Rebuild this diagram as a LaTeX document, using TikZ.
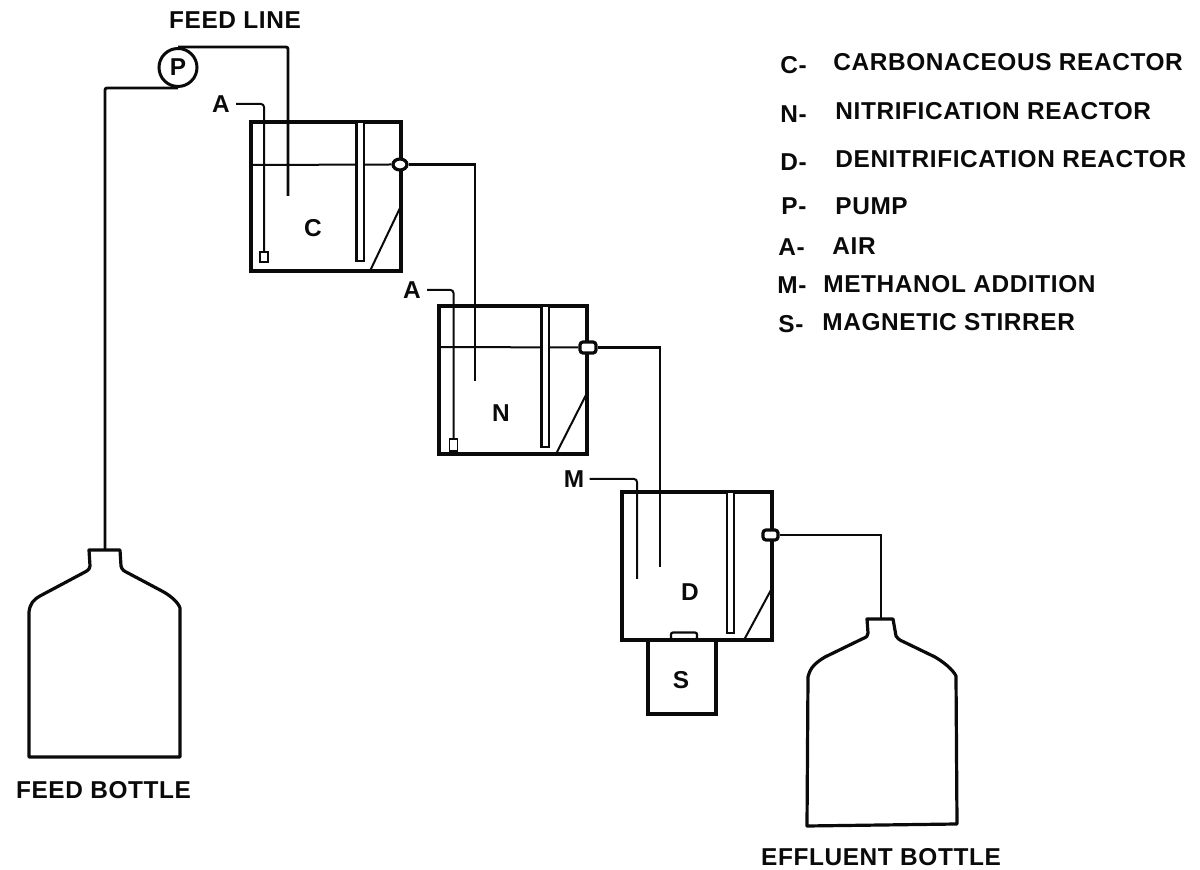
\documentclass[tikz,border=0pt]{standalone}
\usepackage{fontspec}
\setmainfont{Liberation Sans}
\usetikzlibrary{positioning,shapes.geometric}
\definecolor{ink}{HTML}{0A0A0A}
\tikzset{
  lab/.style={ink,inner sep=0pt,font=\fontsize{12.2}{14}\selectfont\bfseries\addfontfeature{LetterSpace=2.5}},
  vessel/.style={draw=ink,line width=1.6pt,inner sep=0pt},
  joint/.style={draw=ink,line width=1.6pt,fill=white,inner sep=0pt,rounded corners=1.5pt},
  baffle/.style={draw=ink,line width=1.1pt,fill=white,inner sep=0pt,minimum width=3.6pt},
  pipe/.style={ink,line width=1.4pt},
  thin pipe/.style={ink,line width=1pt,rounded corners=1.5pt},
  level/.style={ink,line width=1pt},
  glass/.style={ink,line width=1.6pt,line join=round}
}
\begin{document}
\begin{tikzpicture}[x=0.5pt,y=-0.5pt]
  \useasboundingbox (0,0) rectangle (1200,870);
  % reactors
  \node[vessel,minimum width=75pt,minimum height=74.5pt] (boxC) at (326,196.5) {};
  \node[vessel,minimum width=74pt,minimum height=74pt] (boxN) at (513,380) {};
  \node[vessel,minimum width=75pt,minimum height=74pt] (boxD) at (697,566) {};
  \node[vessel,minimum width=34pt,minimum height=37pt] (stirrer) at (682,677) {};
  \node[vessel,minimum width=13pt,minimum height=3.5pt,rounded corners=1pt,line width=1.1pt] (stirbar) at (684,636) {};
  % liquid levels
  \coordinate (levelC) at (251,165);
  \coordinate (levelN) at (439,347);
  \node[joint,ellipse,minimum width=7pt,minimum height=5.5pt,rounded corners=0pt] (jointC) at (400,164.5) {};
  \node[joint,minimum width=8pt,minimum height=5.5pt] (jointN) at (588,347.5) {};
  \node[joint,minimum width=7.5pt,minimum height=5pt] (jointD) at (770.5,535) {};
  \draw[level] (levelC) -- (jointC.west);
  \draw[level] (levelN) -- (jointN.west);
  % baffles
  \node[baffle,minimum height=69.5pt] (baffleC) at (360,191.5) {};
  \node[baffle,minimum height=70.5pt] (baffleN) at (545,376.5) {};
  \node[baffle,minimum height=70.5pt] (baffleD) at (730.5,562.5) {};
  \draw[level] (370,271) -- (400,208);
  \draw[level] (556,454) -- (586,395);
  \draw[level] (744,640) -- (771,590);
  % letters
  \node[lab] (markC) at (313,228) {C};
  \node[lab] (markN) at (501,413) {N};
  \node[lab] (markD) at (690,592) {D};
  \node[lab] (markS) at (681,680) {S};
  % pump and feed
  \node[draw=ink,circle,line width=1.5pt,minimum size=19pt,inner sep=0pt,lab] (pump) at (178,67.5) {P};
  \coordinate (feedC) at (288,196);
  \coordinate (feedN) at (475,381);
  \coordinate (feedD) at (660,567);
  \coordinate (feedneck) at (105,550);
  \coordinate (effneck) at (881,619);
  \draw[pipe,rounded corners=1pt] (feedneck) |- (pump.south);
  \draw[pipe,rounded corners=1pt] (pump.north) -| (feedC);
  \draw[pipe] (jointC.east) -| (feedN);
  \draw[pipe] (jointN.east) -| (feedD);
  \draw[pipe] (jointD.east) -| (effneck);
  % air and methanol
  \node[lab] (airC) at (221,104) {A};
  \node[lab] (airN) at (412,290) {A};
  \node[lab] (methanol) at (574,479) {M};
  \node[draw=ink,line width=.8pt,fill=white,inner sep=0pt,minimum width=4pt,minimum height=5pt] (stoneC) at (264,257) {};
  \node[draw=ink,line width=.8pt,fill=white,inner sep=0pt,minimum width=4pt,minimum height=6pt] (stoneN) at (453.5,445) {};
  \coordinate (methanolend) at (637,579);
  \draw[thin pipe] (airC.east) ++(6,0) -| (stoneC.north);
  \draw[thin pipe] (airN.east) ++(6,0) -| (stoneN.north);
  \draw[thin pipe] (methanol.east) ++(5,0) -| (methanolend);
  % bottles
  \draw[glass] (29,757) -- (29,612) .. controls (30,604) and (33,600) .. (40,596)
    -- (85,572) .. controls (89,570) and (90,568) .. (90,566) -- (89,550) -- (120,550) -- (121,566)
    .. controls (122,570) and (124,571) .. (128,573) -- (160,590) .. controls (170,595) and (178,602) .. (180,608)
    -- (180,757) -- cycle;
  \draw[glass] (807,826) -- (808,677) .. controls (810,668) and (815,663) .. (825,657)
    -- (862,639) .. controls (867,637) and (868,636) .. (868,633) -- (867,619) -- (893,619) -- (896,636)
    .. controls (897,638) and (899,640) .. (904,642) -- (935,657) .. controls (945,663) and (953,670) .. (956,676)
    -- (957,824) -- cycle;
  % names
  \node[lab] (feedline) at (235,20) {FEED LINE};
  \node[lab] (feedbottle) at (103.5,790) {FEED BOTTLE};
  \node[lab] (effbottle) at (881,857) {EFFLUENT BOTTLE};
  % key
  \node[lab,anchor=west] (keyC) at (780,65) {C-};
  \node[lab,anchor=west] (keyN) at (780,114) {N-};
  \node[lab,anchor=west] (keyD) at (780,162) {D-};
  \node[lab,anchor=west] (keyP) at (781,206) {P-};
  \node[lab,anchor=west] (keyA) at (778,247) {A-};
  \node[lab,anchor=west] (keyM) at (777,285) {M-};
  \node[lab,anchor=west] (keyS) at (778,324) {S-};
  \node[lab,anchor=west] (textC) at (833,62) {CARBONACEOUS REACTOR};
  \node[lab,anchor=west] (textN) at (835,111) {NITRIFICATION REACTOR};
  \node[lab,anchor=west] (textD) at (835,159) {DENITRIFICATION REACTOR};
  \node[lab,anchor=west] (textP) at (835,206) {PUMP};
  \node[lab,anchor=west] (textA) at (832,246) {AIR};
  \node[lab,anchor=west] (textM) at (823,284) {METHANOL ADDITION};
  \node[lab,anchor=west] (textS) at (822,322) {MAGNETIC STIRRER};
\end{tikzpicture}
\end{document}
